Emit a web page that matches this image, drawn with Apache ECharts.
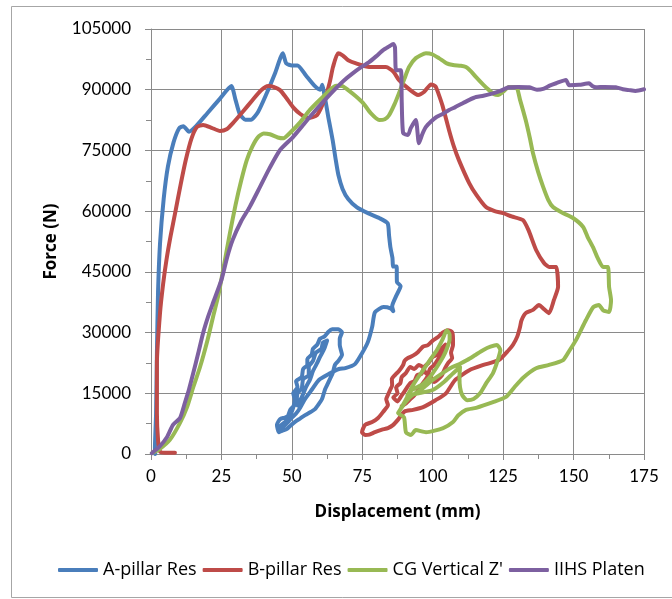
<!DOCTYPE html>
<html>
<head>
<meta charset="utf-8">
<script src="https://cdn.jsdelivr.net/npm/echarts@6/dist/echarts.min.js"></script>
<style>
    html, body { margin: 0; padding: 0; background: #fff; }
    #chart { width: 672px; height: 599px; }
</style>
</head>
<body>
<div id="chart"></div>
<script>
    // displacement (mm), force (N) pairs
    var aPillarRes = [
        [1.5,0],[1.4,1500],[1.8,10000],[2.1,25000],[2.5,40000],[3.2,52000],[4.5,63000],[6,71000],[8,77000],[10,80500],
        [11.5,81000],[13.5,79600],[16,81000],[20,84200],[24.5,87800],[28.5,90900],[30,87500],[31.5,84000],[33.5,82600],
        [35.5,82600],[38,84500],[41,89000],[44,94000],[46.8,99000],[48,96500],[50,96000],[52,96000],[55,93500],[58,91000],
        [60,90000],[60.8,91200],[61.5,89000],[63,83000],[64.5,77500],[65.5,73000],[66.5,69000],[68,65500],[70,63000],
        [73,61000],[77,59500],[81,58300],[84,57000],[84.5,54000],[85,51000],[85.7,48500],[86,46300],[87.2,46300],
        [87.3,42500],[88.6,41500],[87,39000],[85.6,36500],[86,35300],[85,36000],[82.5,36300],[79.5,35000],[78.5,31400],
        [77,27700],[75,25000],[72.4,22200],[69,21200],[66.7,21000],[63.2,19800],[59.6,18300],[57.2,16000],[54.7,13600],
        [53,11500],[51.5,10000],[50,9000],[48.5,7800],[47,6800],[45.4,5400],[44.7,7200],[45.8,8600],[47.5,9000],
        [49.3,9600],[50.5,11500],[51,13500],[50.5,15000],[52,16500],[51.5,18000],[53.5,19000],[54,21000],[55.5,22000],
        [55.5,23500],[57,24500],[57.5,26000],[59,27000],[60,28500],[61.5,29000],[63,30200],[64.3,30800],[66.5,30800],
        [67.8,30100],[67,28500],[67,26900],[67.8,24500],[66.5,23000],[65.3,22000],[64.5,20000],[63.5,18500],[62.5,17000],
        [61.8,16000],[60.7,13600],[59.5,12300],[58.2,11100],[56.5,10300],[54.7,9600],[53,8800],[51,7900],[49.5,7000],
        [48.3,6200],[46.5,5700],[45.4,5400],[46,7000],[48,8200],[49.5,11000],[51.5,12500],[52,15000],[53.5,16200],
        [54,18500],[56,19500],[56,21500],[57.5,23000],[58.5,25000],[60.5,26000],[61,27500],[62.5,28000],[61.5,26000],
        [60,24000],[59,22500],[57.5,20500],[56.5,18500],[55,16500],[53.5,14000],[52,12000]
    ];
    var bPillarRes = [
        [8.5,300],[5,300],[3.2,600],[2.5,3500],[2.1,10000],[2.1,22500],[3.2,34800],[4.3,42000],[5.5,48000],[7,54000],
        [8.7,60000],[10.5,66500],[12.3,72500],[14.3,77800],[16.3,80800],[18.5,81300],[21.5,80600],[24.5,79800],[27,80300],
        [29,81700],[32.5,84500],[36,87400],[39,89800],[41.6,90900],[43.5,90700],[45.8,89900],[48,88000],[50.4,85700],
        [53,84000],[55.8,83000],[58.9,83700],[61.8,87900],[63.5,92000],[64.6,95600],[66.4,99000],[68,98500],[70,97300],
        [72.8,96500],[77.4,95600],[83.4,95600],[86,94500],[88,92400],[91,90500],[94.8,88700],[97,89500],[99.4,91300],
        [101,90800],[102,89100],[103.5,86000],[105.8,80000],[107.5,76000],[109.3,72600],[112.9,67000],[115.5,64000],
        [118.9,61000],[122,60000],[125,59500],[128,58700],[132,57800],[134,55300],[136.7,50400],[139.5,47200],
        [141.3,46200],[143.8,46200],[144.5,41300],[143,38000],[141.3,34800],[139.5,35800],[137.7,36800],[135.6,35600],
        [133,34800],[131.5,33000],[131,31400],[130,29000],[128.5,27000],[127,25700],[123.5,23200],[118,22000],[113,20700],
        [108,18300],[104.7,15000],[101,13300],[96.6,11600],[93,10900],[90,10500],[87.7,8500],[86,7200],[84.1,6400],
        [82,6000],[79.5,5400],[77.5,4800],[76,4700],[74.9,5400],[76,7200],[78.5,7900],[80.6,8900],[82.4,10400],
        [84.1,12100],[83.5,13500],[84.1,14600],[85,16000],[85.6,17000],[85.5,18500],[86.6,19500],[88,20500],[89.5,22000],
        [90,23000],[91.2,23700],[93,24300],[94.8,25200],[96.5,26500],[98.3,26900],[100,28000],[101.9,28900],[103.5,30000],
        [105.4,30600],[106.9,30100],[107.2,28500],[107.2,26900],[106.5,25000],[106.9,23700],[105.5,22500],[104.4,21200],
        [103.3,19500],[101.9,18500],[100.5,17800],[99,19500],[97.5,20000],[96.5,21500],[95,22000],[93.5,21000],[92,21500],
        [90.5,20000],[89,19000],[88.5,17500],[87,16500],[87.5,15000],[86,14000],[87.5,13000],[89,14500],[90.5,16000],
        [92,17500],[93.5,18000],[94.5,19500],[96,19800],[97,21500],[98.5,22500],[100,24000],[101.5,24500],[103,26000],
        [104.5,27000],[103.5,25000],[102,23500],[100.5,22000],[99,21000],[98,19000],[96.5,17500],[95,16000],[93.5,14500],
        [92,13500],[90.5,12500],[89,11800]
    ];
    var cgVerticalZ = [
        [0.3,200],[3,1200],[6.7,3500],[10.3,7700],[12.8,11600],[15,16500],[17.4,21500],[20,28000],[22,33800],[24,39500],
        [26,47000],[28,54500],[30,61500],[32,67500],[34,72600],[36,76000],[38,78300],[40,79200],[42.2,79000],[45,78200],
        [47,78000],[49.3,79300],[53,82000],[56.4,85000],[61,88200],[65.7,91000],[68,90900],[70,89900],[72.5,88500],
        [75.3,86700],[78,84200],[81,82500],[83,82700],[84.5,83700],[86.5,86500],[88,89100],[90,92800],[91.6,95600],
        [94,97800],[97.6,99000],[100,98700],[102.2,97800],[105,96500],[107.2,96100],[110,95900],[111.8,95600],
        [113.5,94600],[115.4,93100],[118,91200],[120,89900],[122,88800],[123.2,88700],[125,89500],[127,90700],
        [129.6,90700],[131,87500],[133,82500],[134.5,78000],[135.6,74300],[137.5,69500],[139.2,66000],[141,62800],
        [142.7,61000],[146,59600],[149.8,58300],[153.4,56100],[155,53600],[156.9,51100],[158.5,48500],[160.5,46200],
        [162.2,46200],[162.6,41300],[163.3,38000],[162.6,35100],[160.5,35500],[159,36800],[157,36300],[154.4,33100],
        [150.9,28200],[148.5,25500],[146.3,23200],[141.3,22000],[136.7,21200],[132,18800],[129,16500],[126,14100],
        [121.4,12800],[115.4,11400],[111.8,10900],[109,9500],[107.2,7900],[103.7,6400],[97.6,5400],[94,5900],[92.3,4700],
        [90.5,5400],[89.8,9100],[87.7,10100],[88.4,10900],[90.5,13500],[92.6,16500],[94.5,18600],[96.6,20700],[99,23200],
        [101.5,25700],[103.5,28300],[105,30600],[106,29500],[106,28200],[105,26000],[103.7,24000],[101.5,21500],[99,19000],
        [96.5,17300],[94.4,16500],[92,15500],[91,14500],[95,15000],[100,15800],[104,17800],[107,19800],[109.7,21500],
        [109.5,19000],[109.7,16500],[110.5,14500],[112.2,13300],[114.5,13600],[116.8,15000],[119,17500],[121.4,20000],
        [123,23000],[124,25700],[122.8,26900],[120.5,26500],[118,25700],[115,24400],[112.2,23200],[109.7,22300],
        [107,21500],[103.5,20000],[100,18300],[96,16000],[92,14100],[90,12500],[88.4,10900]
    ];
    var iihsPlaten = [
        [0.3,200],[3,1800],[5.7,4200],[7.8,7200],[10.3,8900],[12,12600],[13.5,16000],[15,20000],[16.8,25000],[18.5,29900],
        [20.3,34000],[22,37300],[25,43000],[27,48500],[29,52900],[32,57500],[35,61000],[38.7,66000],[42,70500],[45.8,75100],
        [50.4,78300],[54,81300],[57.5,84200],[61.5,87300],[65.7,90400],[68.5,92300],[71.7,94100],[74.5,95500],[77.4,96800],
        [80,98300],[82.4,99800],[84.5,100700],[86,101300],[86.6,100500],[87,94800],[88.7,94800],[89,87000],[89.5,79300],
        [91.2,78800],[92.2,80500],[94,82500],[95.1,76800],[96.3,79000],[97.6,80800],[99.5,82200],[101.2,83200],
        [103.5,84000],[105.8,85000],[108,85700],[110.8,86700],[113,87500],[115.4,88200],[118,88500],[121.4,89100],
        [124,89700],[127,90600],[130.5,90700],[134.2,90600],[137,90000],[139.2,90200],[141.5,91000],[143.8,91600],
        [147.3,92400],[148.4,91100],[152,91200],[155.5,91600],[156.5,91000],[158,90600],[161,90700],[165,90600],
        [167.5,90100],[169.7,89900],[172,89700],[175,90100]
    ];
    var seriesNames = ['A-pillar Res', 'B-pillar Res', "CG Vertical Z'", 'IIHS Platen'];
    var seriesColors = ['#4a7ebb', '#be4b48', '#98b954', '#7d60a0'];
    var seriesData = [aPillarRes, bPillarRes, cgVerticalZ, iihsPlaten];

    var font = 'Lato, "Open Sans", sans-serif';
    var wideFont = '"Open Sans", Lato, sans-serif';
    var gridColor = '#8a8a8a';

    var chart = echarts.init(document.getElementById('chart'));
    chart.setOption({
        animation: false,
        backgroundColor: '#fff',
        textStyle: { fontFamily: font },
        graphic: [{
            type: 'rect',
            shape: { x: 11.5, y: 6.5, width: 700, height: 591 },
            style: { fill: 'none', stroke: '#a6a6a6', lineWidth: 1 }
        }],
        grid: { left: 151, right: 28, top: 29, bottom: 145 },
        legend: {
            left: 53,
            top: 556,
            icon: 'roundRect',
            itemWidth: 40,
            itemHeight: 4,
            itemGap: 6,
            textStyle: { fontFamily: wideFont, fontSize: 18, color: '#000' },
            data: seriesNames
        },
        xAxis: {
            type: 'value',
            min: 0,
            max: 175,
            interval: 25,
            name: 'Displacement (mm)',
            nameLocation: 'middle',
            nameGap: 50,
            nameTextStyle: { fontFamily: wideFont, fontSize: 17, fontWeight: 'bold', color: '#000' },
            axisLine: { show: true, lineStyle: { color: gridColor } },
            axisTick: { show: true, length: 6, lineStyle: { color: gridColor } },
            minorTick: { show: true, splitNumber: 2, length: 5, lineStyle: { color: gridColor } },
            axisLabel: { margin: 14, fontSize: 17, color: '#000' },
            splitLine: { show: true, lineStyle: { color: gridColor } }
        },
        yAxis: {
            type: 'value',
            min: 0,
            max: 105000,
            interval: 15000,
            name: 'Force (N)',
            nameLocation: 'middle',
            nameGap: 91,
            nameTextStyle: { fontFamily: wideFont, fontSize: 17, fontWeight: 'bold', color: '#000' },
            axisLine: { show: true, lineStyle: { color: gridColor } },
            axisTick: { show: true, length: 6, lineStyle: { color: gridColor } },
            minorTick: { show: true, splitNumber: 2, length: 5, lineStyle: { color: gridColor } },
            axisLabel: {
                margin: 20,
                fontSize: 17,
                color: '#000',
                formatter: function (v) { return String(v); }
            },
            splitLine: { show: true, lineStyle: { color: gridColor } }
        },
        series: seriesData.map(function (d, i) {
            return {
                name: seriesNames[i],
                type: 'line',
                data: d,
                showSymbol: false,
                smooth: 0.2,
                color: seriesColors[i],
                lineStyle: { width: 4, color: seriesColors[i], cap: 'round', join: 'round' }
            };
        })
    });
</script>
</body>
</html>
